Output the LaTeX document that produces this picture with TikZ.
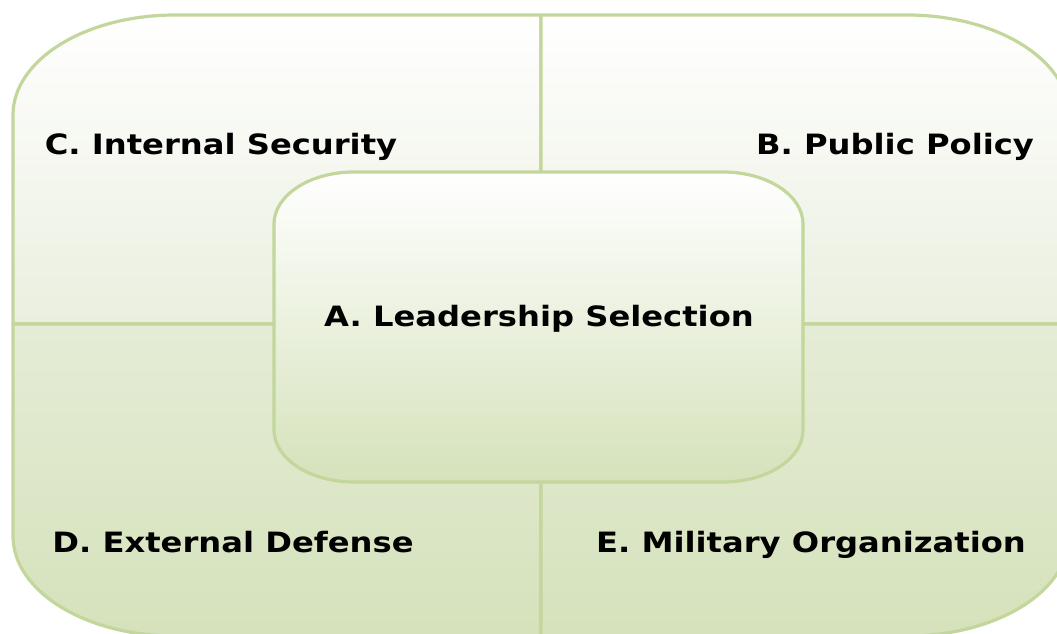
\documentclass[tikz,border=0pt]{standalone}
\usepackage{fontspec}
\newfontfamily\capfont[FakeStretch=1.15]{DejaVu Sans}
\usetikzlibrary{positioning}
\definecolor{rim}{HTML}{C3D69B}
\definecolor{leaf}{HTML}{D5E2BB}
\definecolor{leafhi}{HTML}{EAEFDF}
\definecolor{leaflo}{HTML}{E5ECD6}
\tikzset{
	cell/.style={draw=rim,line width=3.2pt,line join=round},
	upper/.style={cell,top color=white,bottom color=leafhi},
	lower/.style={cell,top color=leaflo,bottom color=leaf},
	core/.style={cell,top color=white,bottom color=leaf},
	caption/.style={anchor=base,inner sep=0pt,font=\capfont\bfseries\fontsize{28}{32}\selectfont}
}

\begin{document}
\begin{tikzpicture}[x=1pt,y=1pt] % tikzpicture環境開始
\useasboundingbox (0,0) rectangle (1057,633);
% 四つの区画
\path [upper] (541,309) -- (13,309) -- (13,518) arc[start angle=180,end angle=90,x radius=162,y radius=100] -- (541,618) -- cycle;
\path [upper] (541,309) -- (1069,309) -- (1069,518) arc[start angle=0,end angle=90,x radius=162,y radius=100] -- (541,618) -- cycle;
\path [lower] (541,309) -- (13,309) -- (13,97) arc[start angle=180,end angle=270,x radius=162,y radius=100] -- (541,-3) -- cycle;
\path [lower] (541,309) -- (1069,309) -- (1069,97) arc[start angle=0,end angle=-90,x radius=162,y radius=100] -- (541,-3) -- cycle;
% 中央の枠
\path [core] (354,461) -- (723,461) arc[start angle=90,end angle=0,x radius=80,y radius=52]
	-- (803,203) arc[start angle=0,end angle=-90,x radius=80,y radius=52]
	-- (354,151) arc[start angle=270,end angle=180,x radius=80,y radius=52]
	-- (274,409) arc[start angle=180,end angle=90,x radius=80,y radius=52] -- cycle;
% 文字
\node [caption] (lead) at (539,307) {A. Leadership Selection};
\node [caption] (policy) at (895,478) {B. Public Policy};
\node [caption] (security) at (221,478) {C. Internal Security};
\node [caption] (defense) at (233,81) {D. External Defense};
\node [caption] (military) at (811,81) {E. Military Organization};
\end{tikzpicture}
\end{document}
